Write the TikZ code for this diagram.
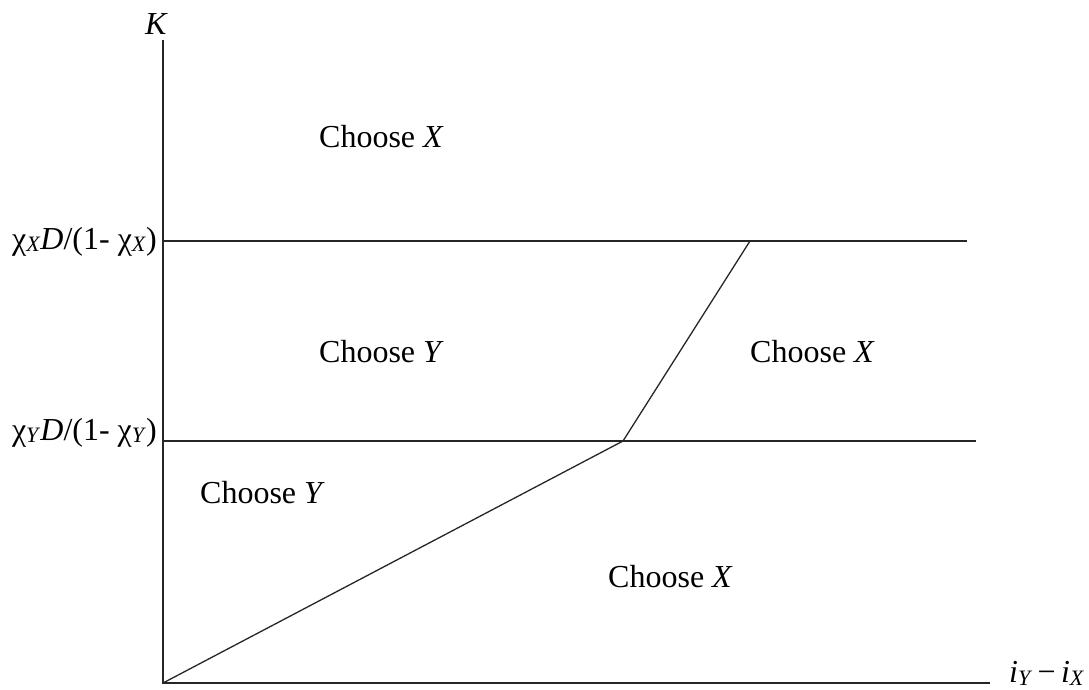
\documentclass[tikz,border=0pt]{standalone}
\usepackage{fontspec}
\setmainfont{Liberation Serif}
\newcommand{\subx}[1]{\raisebox{-2pt}{\fontsize{22}{22}\selectfont\textit{#1}}}
\newcommand{\subi}[1]{\raisebox{-3pt}{\fontsize{22}{22}\selectfont\textit{#1}}}
\begin{document}
\begin{tikzpicture}[x=1pt,y=-1pt,
  axisline/.style={line width=1.8pt, black!85},
  boundary/.style={line width=1.3pt, black!85},
  lbl/.style={inner sep=0pt, font=\fontsize{32}{38}\selectfont}]
\useasboundingbox (0,0) rectangle (1089,690);
\coordinate (O) at (163,683);
\coordinate (T) at (163,40);
\coordinate (E) at (990,683);
\coordinate (U1) at (163,241);
\coordinate (U2) at (967,241);
\coordinate (L1) at (163,441);
\coordinate (L2) at (976,441);
\coordinate (A) at (623,441);
\coordinate (B) at (750,241);
\draw[axisline] (T) -- (O) -- (E);
\draw[axisline] (U1) -- (U2);
\draw[axisline] (L1) -- (L2);
\draw[boundary] (O) -- (A) -- (B);
\node[lbl, anchor=base west] (k) at (145,35) {\textit{K}};
\node[lbl, anchor=base west] (ix) at (1009,682) {\textit{i}\subi{Y}\,−\,\textit{i}\subi{X}};
\node[lbl, anchor=base east] (lx) at (157,249) {χ\subx{X}\textit{D}/(1- χ\subx{X})};
\node[lbl, anchor=base east] (ly) at (157,440) {χ\subx{Y}\textit{D}/(1- χ\subx{Y})};
\node[lbl, anchor=base west] (c1) at (319,147) {Choose \textit{X}};
\node[lbl, anchor=base west] (c2) at (319,362) {Choose \textit{Y}};
\node[lbl, anchor=base west] (c3) at (750,362) {Choose \textit{X}};
\node[lbl, anchor=base west] (c4) at (200,503) {Choose \textit{Y}};
\node[lbl, anchor=base west] (c5) at (608,587) {Choose \textit{X}};
\end{tikzpicture}
\end{document}
